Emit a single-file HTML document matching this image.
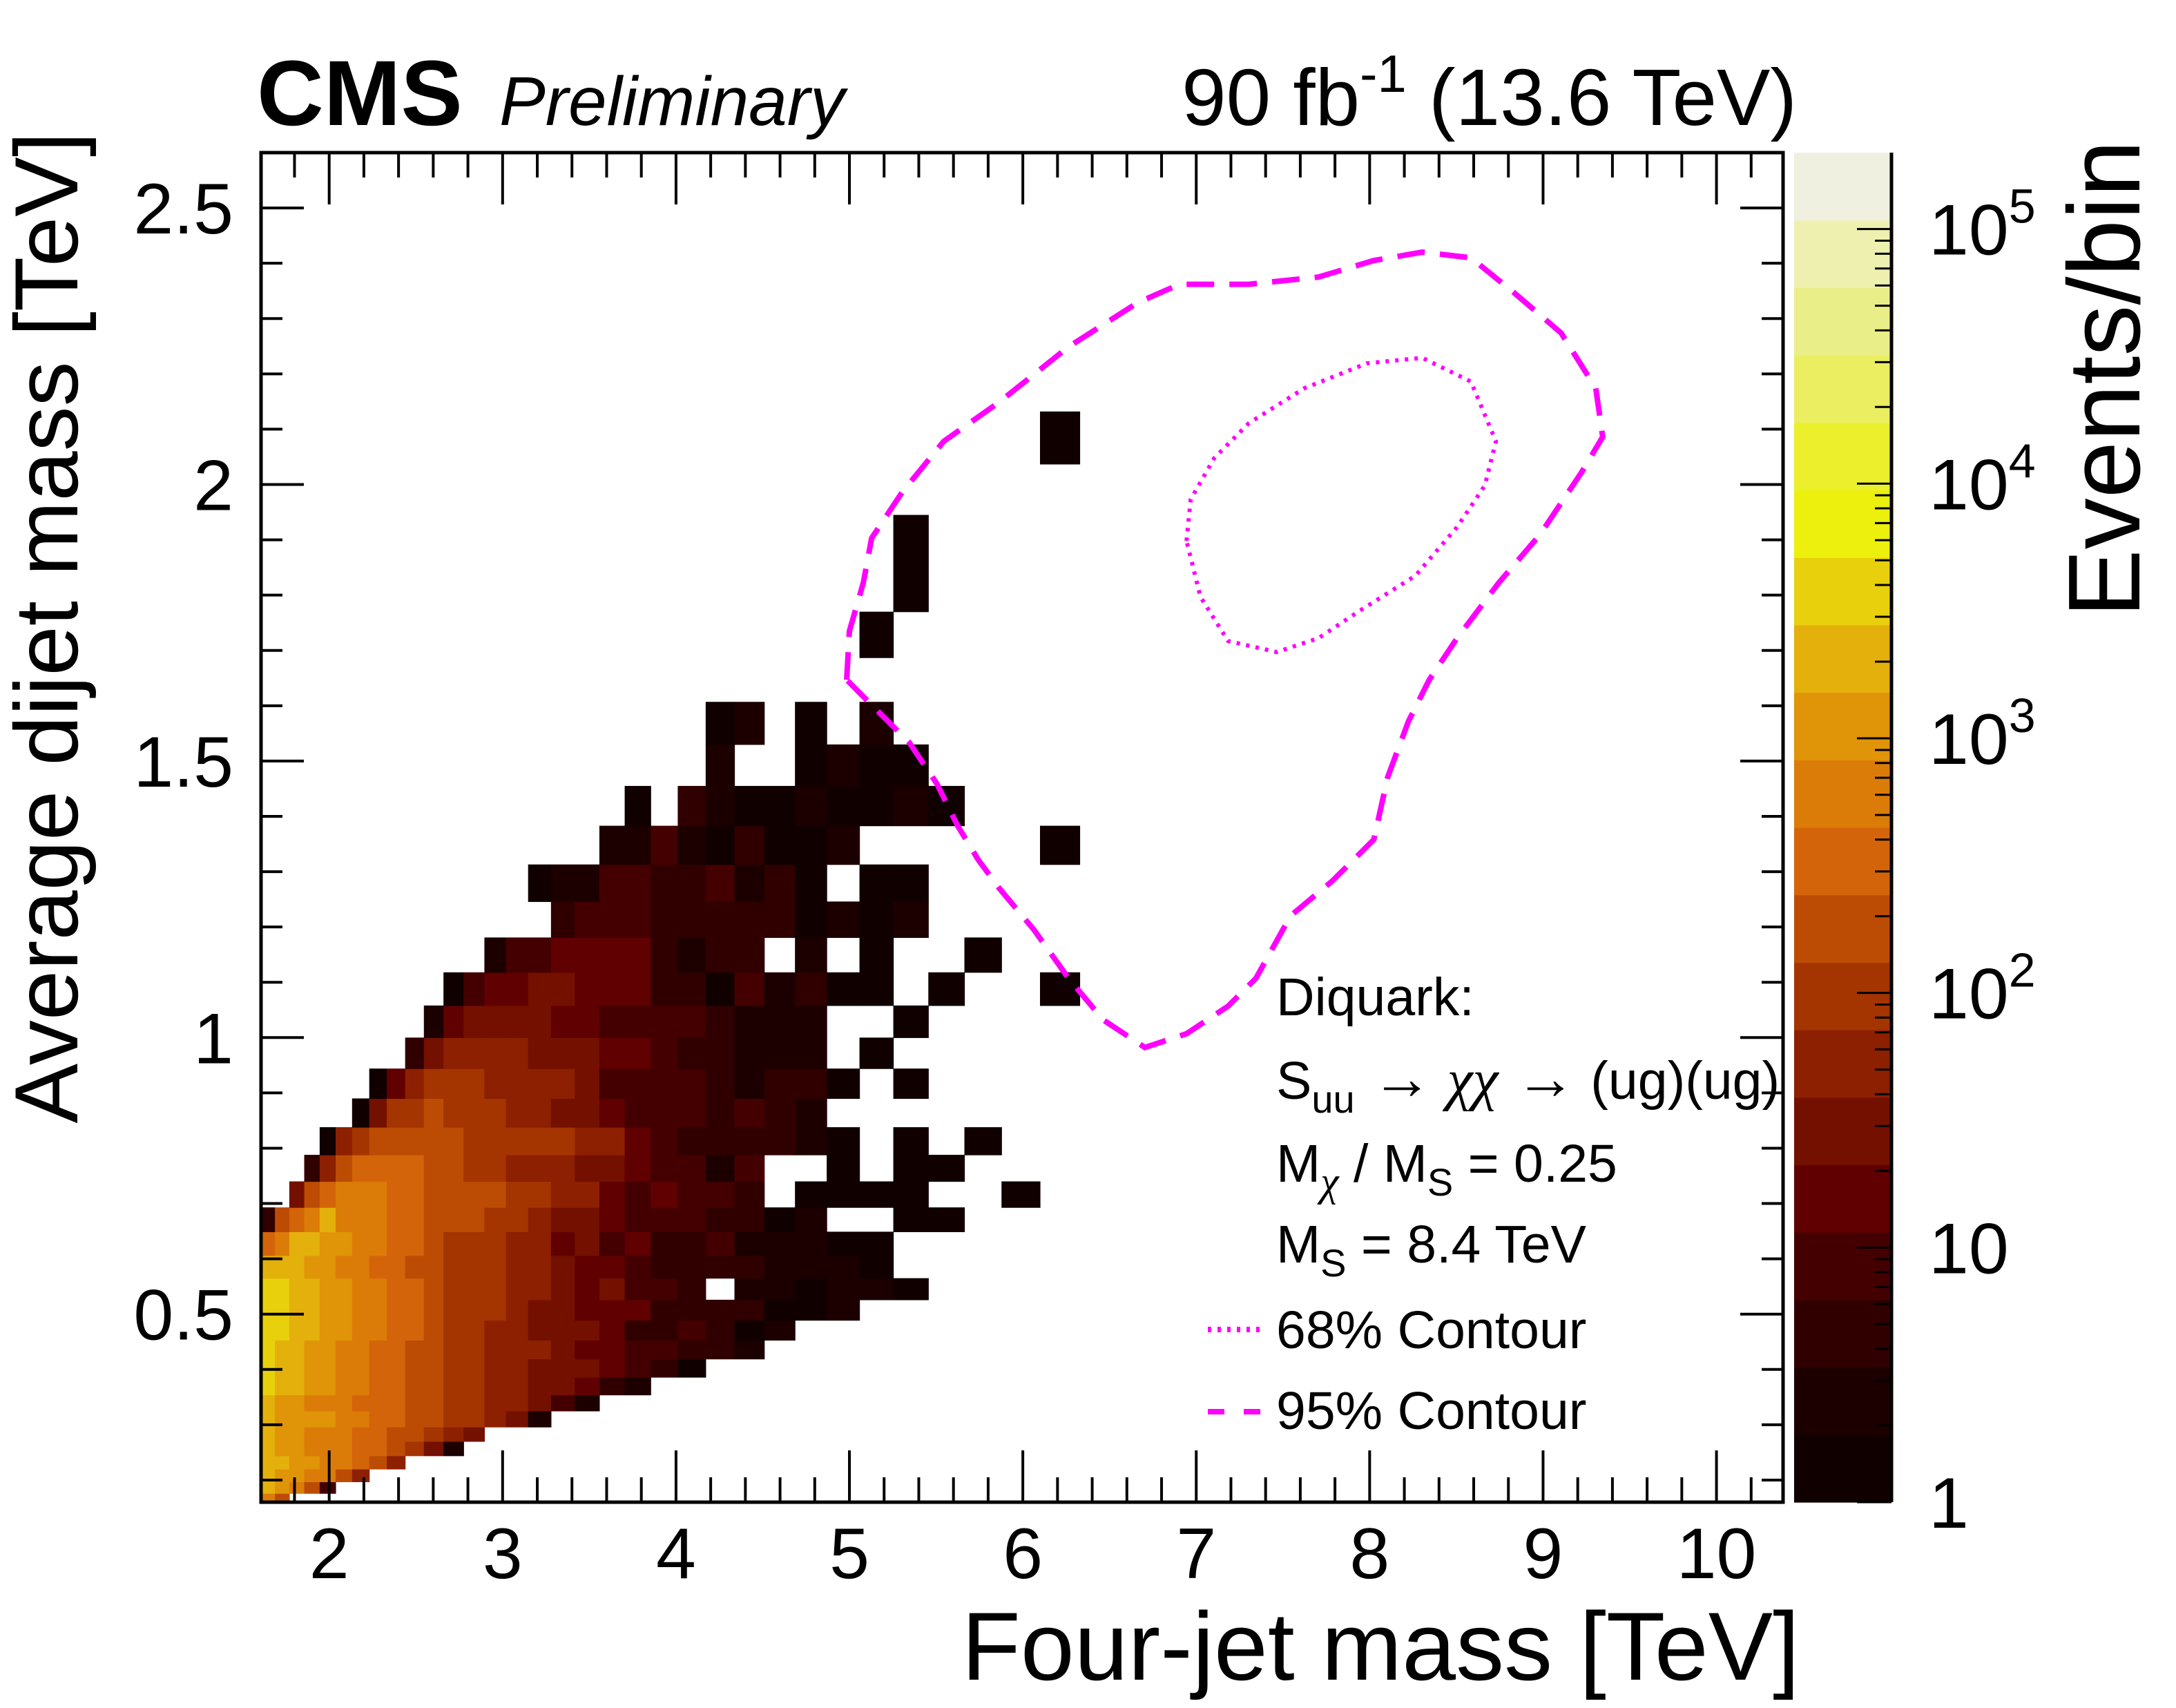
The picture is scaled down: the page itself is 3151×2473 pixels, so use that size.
<!DOCTYPE html>
<html><head><meta charset="utf-8"><style>
html,body{margin:0;padding:0;background:#fff;}
svg{display:block;font-family:"Liberation Sans",Arial,sans-serif;}
</style></head><body>
<svg id="chart" xmlns="http://www.w3.org/2000/svg" width="3151" height="2473" viewBox="0 0 3151 2473">
<defs><clipPath id="plotclip"><rect x="378" y="221" width="2204" height="1954"/></clipPath></defs>
<g id="cells" clip-path="url(#plotclip)"></g>
<g id="contours" clip-path="url(#plotclip)"></g>
<g id="axes"></g>
<g id="cbar"></g>
<text x="372" y="181" font-size="134" font-weight="bold">CMS</text>
<text x="723" y="181" font-size="100" font-style="italic">Preliminary</text>
<text x="2602" y="181" font-size="116" text-anchor="end">90 fb<tspan font-size="76" dy="-48">-1</tspan><tspan dy="48"> (13.6 TeV)</tspan></text>
<text x="2606" y="2432" font-size="140" text-anchor="end">Four-jet mass [TeV]</text>
<text transform="translate(112,191) rotate(-90)" font-size="130" text-anchor="end">Average dijet mass [TeV]</text>
<text transform="translate(3098,894) rotate(-90)" font-size="148">Events/bin</text>
<g font-size="77">
<text x="1848" y="1470">Diquark:</text>
<text x="1848" y="1591">S<tspan font-size="56" dy="20">uu</tspan><tspan dy="-20"><tspan font-size="88"> →</tspan> <tspan font-style="italic" font-family="'Liberation Serif',serif" font-size="84">χχ</tspan><tspan font-size="88"> →</tspan> (ug)(ug)</tspan></text>
<text x="1848" y="1711">M<tspan font-size="60" dy="20" font-style="italic" font-family="'Liberation Serif',serif">χ</tspan><tspan dy="-20"> / M</tspan><tspan font-size="56" dy="20">S</tspan><tspan dy="-20"> = 0.25</tspan></text>
<text x="1848" y="1828">M<tspan font-size="56" dy="20">S</tspan><tspan dy="-20"> = 8.4 TeV</tspan></text>
<line x1="1749" y1="1925" x2="1826" y2="1925" stroke="#ff00ff" stroke-width="8" stroke-dasharray="5,9"/>
<text x="1848" y="1952">68% Contour</text>
<line x1="1749" y1="2044" x2="1826" y2="2044" stroke="#ff00ff" stroke-width="8" stroke-dasharray="24,28"/>
<text x="1848" y="2069">95% Contour</text>
</g>
</svg>
<script>
// ---- data ----
var xEdges = [1.607,1.687,1.770,1.856,1.945,2.037,2.132,2.231,2.332,2.438,2.546,2.659,2.775,2.895,3.019,3.147,3.279,3.416,3.558,3.704,3.854,4.010,4.171,4.337,4.509,4.686,4.869,5.058,5.253,5.455,5.663,5.877,6.099,6.328];
var yEdges = [0.156,0.176,0.197,0.220,0.244,0.270,0.296,0.325,0.354,0.386,0.419,0.453,0.489,0.526,0.565,0.606,0.649,0.693,0.740,0.788,0.838,0.890,0.944,1.000,1.058,1.118,1.181,1.246,1.313,1.383,1.455,1.530,1.607,1.687,1.770,1.856,1.945,2.037,2.132];
// per-row colour-level codes (1-9,a-e ; '.' = empty), row 0 = lowest y bin
var levelRows = [
"b9",
"dcb94",
"dccbb97",
"ddccbba97",
"dccbbbaa9862",
"dccbbbaa99876",
"dccccbbaa9988762",
"dccbbbaaa998877642",
"eddccbbaa99887766532",
"eddccbbaa9988776665431",
"eddccbbaa998877765544332",
"eeddccbbaa988776665334312",
"eeddccbbaa98887665553333112",
"eeddccbbaa988877656443.221221",
"dddccbbaa9988877655433332221",
"abddccbbaa988877564533422211",
"39abdbbbaa9998876654443312..11",
"..69abbbaa99998877545443.1111..1",
"...379aaaa99887776654424..1.11",
"....17899999888887754333321.1.1",
"......16889888776654443432",
".......15788877776444432331.1",
".........36777766655433222.1",
"..........2566665544443222..1",
"...........14556655533142311.1..1",
".............24455553233.2.1..1",
"................3444333331212",
"...............12244334231.11",
"..................224213112.....1",
"...................1.321121121",
"......................2..1211",
"......................12.1.2",
"",
"...........................1",
"............................1",
"............................1",
"",
"................................1"
];
var contour95X = [4.984,5.0,5.08,5.128,5.304,5.544,5.864,6.264,6.664,6.904,7.304,7.704,8.024,8.304,8.584,8.824,9.104,9.304,9.344,9.224,8.984,8.744,8.504,8.344,8.224,8.104,8.024,7.784,7.544,7.344,7.184,6.944,6.704,6.464,6.264,6.064,5.864,5.744,5.624,5.504,5.344,5.104];
var contour95Y = [1.647,1.735,1.822,1.903,1.986,2.078,2.149,2.249,2.329,2.362,2.362,2.375,2.405,2.42,2.41,2.349,2.274,2.174,2.086,2.023,1.91,1.822,1.722,1.647,1.572,1.471,1.358,1.283,1.22,1.107,1.057,1.007,0.982,1.032,1.107,1.195,1.27,1.321,1.383,1.459,1.534,1.609];
var contour68X = [6.944,6.968,7.104,7.304,7.624,7.984,8.304,8.584,8.728,8.664,8.504,8.264,7.944,7.704,7.464,7.184,7.024];
var contour68Y = [1.898,1.973,2.048,2.111,2.174,2.219,2.229,2.186,2.078,1.998,1.923,1.835,1.772,1.722,1.697,1.717,1.797];
var xTickLabels = [2,3,4,5,6,7,8,9,10];
var yTickLabels = [0.5,1,1.5,2,2.5];
var zTickExps = [0,1,2,3,4,5];
var palette = ["#100000","#1c0000","#300000","#440000","#600000","#741000","#8c2000","#a43400","#bc4c04","#d4640a","#dc7c08","#e09408","#e4b00c","#e8d00c","#ecf00c","#ecf02c","#eaee60","#eaee88","#eef0b0","#f0f0e0"];
// ---- scales ----
var NS="http://www.w3.org/2000/svg";
var X0=378,X1=2582,Y0=2175,Y1=221,XMIN=1.607,XMAX=10.384,YMIN=0.16,YMAX=2.6,ZMAX=5.3,STEP=ZMAX/20;
function sx(v){return X0+(v-XMIN)/(XMAX-XMIN)*(X1-X0);}
function sy(v){return Y0-(v-YMIN)/(YMAX-YMIN)*(Y0-Y1);}
function sz(l){return Y0-l/ZMAX*(Y0-Y1);}
function mk(tag,attrs,parent){var e=document.createElementNS(NS,tag);for(var k in attrs)e.setAttribute(k,attrs[k]);parent.appendChild(e);return e;}
var counts = levelRows.map(function(r){return r.split('').map(function(ch){return ch==='.'?0:Math.pow(10,(parseInt(ch,16)-0.5)*STEP);});});
var cells=document.getElementById('cells');
counts.forEach(function(row,ri){row.forEach(function(z,ci){
  if(z<=0)return;
  var b=Math.min(19,Math.max(0,Math.floor(Math.log10(z)/STEP)));
  var x=sx(xEdges[ci]),x2=sx(xEdges[ci+1]),y=sy(yEdges[ri+1]),y2=sy(yEdges[ri]);
  var r=mk('rect',{x:x,y:y,width:x2-x+0.6,height:y2-y+0.6,fill:palette[b]},cells);
  
  
});});
var cg=document.getElementById('contours');
function poly(xs,ys){return xs.map(function(v,i){return (i?'L':'M')+sx(v).toFixed(1)+','+sy(ys[i]).toFixed(1);}).join('')+'Z';}
var p95=mk('path',{d:poly(contour95X,contour95Y),fill:'none',stroke:'#ff00ff','stroke-width':8,'stroke-dasharray':'40,22'},cg);


var p68=mk('path',{d:poly(contour68X,contour68Y),fill:'none',stroke:'#ff00ff','stroke-width':6,'stroke-dasharray':'5,9'},cg);


var ax=document.getElementById('axes');
var fr=mk('rect',{x:X0,y:Y1,width:X1-X0,height:Y0-Y1,fill:'none',stroke:'#000','stroke-width':5},ax);


for(var k=9;k<=51;k++){var v=k*0.2;if(v<XMIN||v>XMAX)continue;var maj=Math.abs(v-Math.round(v))<1e-6;var L=maj?75:36;var x=sx(v);
  mk('line',{x1:x,y1:Y0,x2:x,y2:Y0-L,stroke:'#000','stroke-width':4},ax);
  mk('line',{x1:x,y1:Y1,x2:x,y2:Y1+L,stroke:'#000','stroke-width':4},ax);}
for(var k2=2;k2<=26;k2++){var v2=k2*0.1;var L2=(k2%5===0)?62:31;var y=sy(v2);
  mk('line',{x1:X0,y1:y,x2:X0+L2,y2:y,stroke:'#000','stroke-width':4},ax);
  mk('line',{x1:X1,y1:y,x2:X1-L2,y2:y,stroke:'#000','stroke-width':4},ax);}
xTickLabels.forEach(function(v){var t=mk('text',{x:sx(v),y:2285,'font-size':104,'text-anchor':'middle'},ax);t.textContent=String(v);
  
  });
yTickLabels.forEach(function(v){var t=mk('text',{x:338,y:sy(v)+37,'font-size':104,'text-anchor':'end'},ax);t.textContent=String(v);
  
  });
var cb=document.getElementById('cbar');
var CX0=2598,CX1=2739;
palette.forEach(function(c,i){var y=sz((i+1)*STEP),y2=sz(i*STEP);
  var r=mk('rect',{x:CX0,y:y,width:CX1-CX0,height:y2-y+0.6,fill:c},cb);
  
  });
mk('line',{x1:CX1,y1:Y1,x2:CX1,y2:Y0,stroke:'#000','stroke-width':5},cb);
for(var e=0;e<=5;e++){for(var m=1;m<=9;m++){var l=e+Math.log10(m);if(l>ZMAX)break;var yy=sz(l);var LL=m===1?50:24;
  mk('line',{x1:CX1,y1:yy,x2:CX1-LL,y2:yy,stroke:'#000','stroke-width':3},cb);}}
zTickExps.forEach(function(e){var y=sz(e)+37;var t=mk('text',{x:2793,y:y,'font-size':104},cb);
  
  
  if(e===0)t.textContent='1';else if(e===1)t.textContent='10';
  else{t.textContent='10';var s=mk('tspan',{'font-size':70,dy:-46},t);s.textContent=String(e);}
});
</script>
</body></html>
